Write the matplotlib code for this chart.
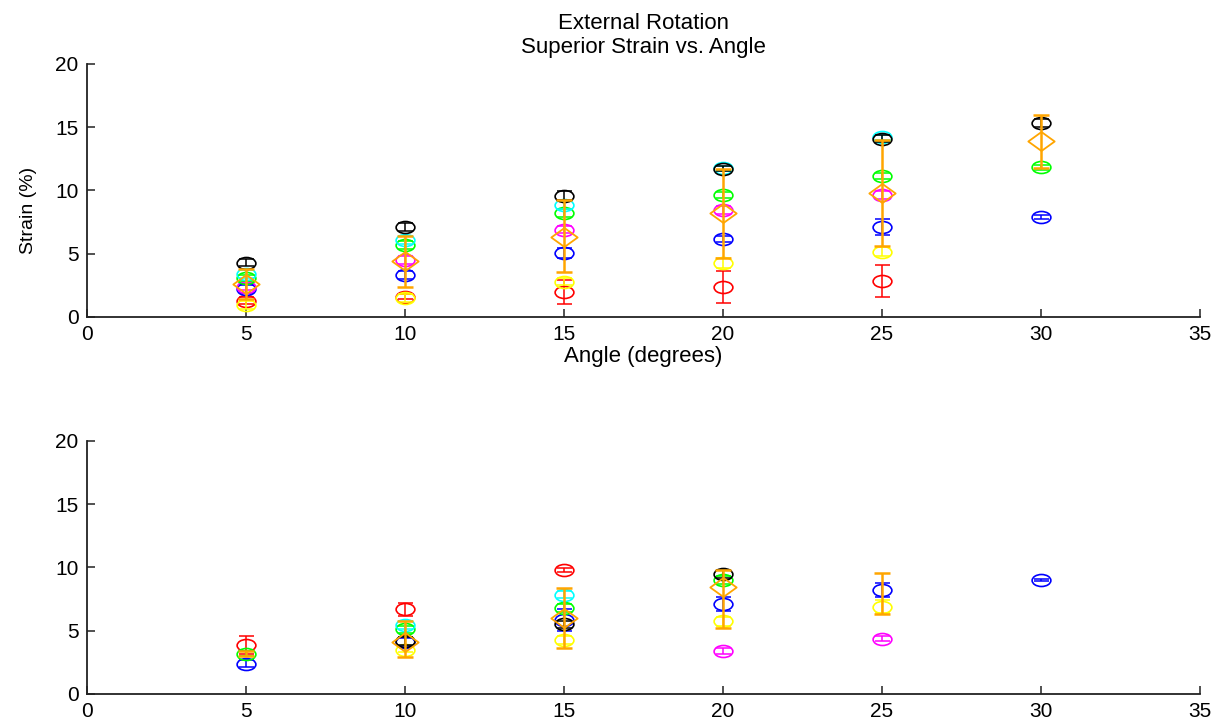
import numpy as np
import matplotlib
matplotlib.use('Agg')
import matplotlib.pyplot as plt
from matplotlib.path import Path

plt.rcParams['font.family'] = ['Liberation Sans', 'DejaVu Sans']

nan = np.nan
angles = [5, 10, 15, 20, 25, 30]

# top panel: superior strain, values per specimen and their error
top_red = [1.3, 1.6, 2.0, 2.35, 2.85, nan]
top_red_err = [0.3, 0.2, 0.95, 1.25, 1.25, nan]
top_yellow = [0.95, 1.5, 2.8, 4.25, 5.15, nan]
top_yellow_err = [0.3, 0.3, 0.3, 0.4, 0.35, nan]
top_blue = [2.2, 3.3, 5.05, 6.15, 7.1, 7.9]
top_blue_err = [0.3, 0.3, 0.4, 0.25, 0.65, 0.15]
top_magenta = [2.4, 4.5, 6.9, 8.45, 9.65, nan]
top_magenta_err = [0.3, 0.3, 0.3, 0.3, 0.3, nan]
top_green = [3.1, 5.7, 8.2, 9.65, 11.15, 11.85]
top_green_err = [0.25, 0.3, 0.3, 0.25, 0.25, 0.2]
top_cyan = [3.4, 6.1, 8.85, 11.75, 14.2, nan]
top_cyan_err = [0.3, 0.3, 0.3, 0.2, 0.2, nan]
top_black = [4.3, 7.1, 9.6, 11.7, 14.1, 15.35]
top_black_err = [0.25, 0.3, 0.35, 0.2, 0.25, 0.3]
top_mean = [2.6, 4.4, 6.35, 8.2, 9.8, 13.9]
top_mean_lo = [1.2, 2.0, 2.8, 3.5, 4.2, 2.1]
top_mean_hi = [1.2, 2.0, 2.9, 3.5, 4.2, 2.1]

# bottom panel
bot_red = [3.9, 6.7, 9.8, nan, nan, nan]
bot_red_err = [0.7, 0.5, 0.15, nan, nan, nan]
bot_yellow = [nan, 3.5, 4.25, 5.75, 6.9, nan]
bot_yellow_err = [nan, 0.2, 0.3, 0.35, 0.5, nan]
bot_blue = [2.4, 4.1, 5.85, 7.1, 8.2, 9.0]
bot_blue_err = [0.3, 0.3, 0.9, 0.55, 0.55, 0.1]
bot_magenta = [nan, nan, nan, 3.4, 4.35, nan]
bot_magenta_err = [nan, nan, nan, 0.2, 0.2, nan]
bot_green = [3.2, 5.1, 6.8, 9.0, nan, nan]
bot_green_err = [0.2, 0.3, 0.3, 0.3, nan, nan]
bot_cyan = [nan, 5.45, 7.85, nan, nan, nan]
bot_cyan_err = [nan, 0.3, 0.3, nan, nan, nan]
bot_black = [nan, 4.2, 5.5, 9.5, nan, nan]
bot_black_err = [nan, 0.3, 0.3, 0.3, nan, nan]
bot_mean = [nan, 4.1, 6.0, 8.45, nan, nan]
bot_mean_lo = [nan, 1.2, 2.35, 3.25, nan, nan]
bot_mean_hi = [nan, 1.7, 2.4, 1.35, nan, nan]
bot_range = [3.2, nan, nan, nan, 7.95, nan]
bot_range_err = [0.2, nan, nan, nan, 1.65, nan]

colors = ['#ff0000', '#ffff00', '#0000ff', '#ff00ff', '#00ff00', '#00ffff', '#000000']
orange = '#ffa500'

circ = Path.unit_circle()
ellipse = Path(circ.vertices * np.array([1.0, 0.64]), circ.codes)
diamond = Path([(-1, 0), (0, 0.72), (1, 0), (0, -0.72), (-1, 0)],
               [Path.MOVETO, Path.LINETO, Path.LINETO, Path.LINETO, Path.CLOSEPOLY])


def draw_panel(ax, series, mean, mean_lo, mean_hi, extra=None):
  for (vals, errs), c in zip(series, colors):
    ax.errorbar(angles, vals, yerr=errs, fmt='none', ecolor=c, elinewidth=1.1,
                capsize=5.4, capthick=1.1)
    ax.plot(angles, vals, linestyle='none', marker=ellipse, markersize=13.5,
            mfc='none', mec=c, mew=1.2)
  ax.errorbar(angles, mean, yerr=[mean_lo, mean_hi], fmt='none', ecolor=orange,
              elinewidth=1.8, capsize=6, capthick=1.8)
  ax.plot(angles, mean, linestyle='none', marker=diamond, markersize=19,
          mfc='none', mec=orange, mew=1.3)
  if extra is not None:
    ax.errorbar(angles, extra[0], yerr=extra[1], fmt='none', ecolor=orange,
                elinewidth=1.8, capsize=6, capthick=1.8)
  ax.set_xlim(0, 35)
  ax.set_ylim(0, 20)
  ax.set_xticks(range(0, 36, 5))
  ax.set_yticks(range(0, 21, 5))
  ax.spines['top'].set_visible(False)
  ax.spines['right'].set_visible(False)
  for s in ('left', 'bottom'):
    ax.spines[s].set_color('#222222')
    ax.spines[s].set_linewidth(1.3)
  ax.tick_params(direction='in', length=6, width=1.1, labelsize=15, pad=6,
                 colors='#222222', labelcolor='black')


fig = plt.figure(figsize=(12.27, 7.27), dpi=100)
ax1 = fig.add_axes([0.0709, 0.564, 0.907, 0.348])
ax2 = fig.add_axes([0.0709, 0.0454, 0.907, 0.348])

draw_panel(ax1, [(top_red, top_red_err), (top_yellow, top_yellow_err),
                 (top_blue, top_blue_err), (top_magenta, top_magenta_err),
                 (top_green, top_green_err), (top_cyan, top_cyan_err),
                 (top_black, top_black_err)], top_mean, top_mean_lo, top_mean_hi)
draw_panel(ax2, [(bot_red, bot_red_err), (bot_yellow, bot_yellow_err),
                 (bot_blue, bot_blue_err), (bot_magenta, bot_magenta_err),
                 (bot_green, bot_green_err), (bot_cyan, bot_cyan_err),
                 (bot_black, bot_black_err)], bot_mean, bot_mean_lo, bot_mean_hi,
           extra=(bot_range, bot_range_err))

ax1.set_title('External Rotation\nSuperior Strain vs. Angle', fontsize=16,
              linespacing=1.2, pad=8)
ax1.set_xlabel('Angle (degrees)', fontsize=16, labelpad=1)
ax1.set_ylabel('Strain (%)', fontsize=14)
ax1.yaxis.set_label_coords(-0.045, 0.42)

fig.savefig('out.png', dpi=100)
